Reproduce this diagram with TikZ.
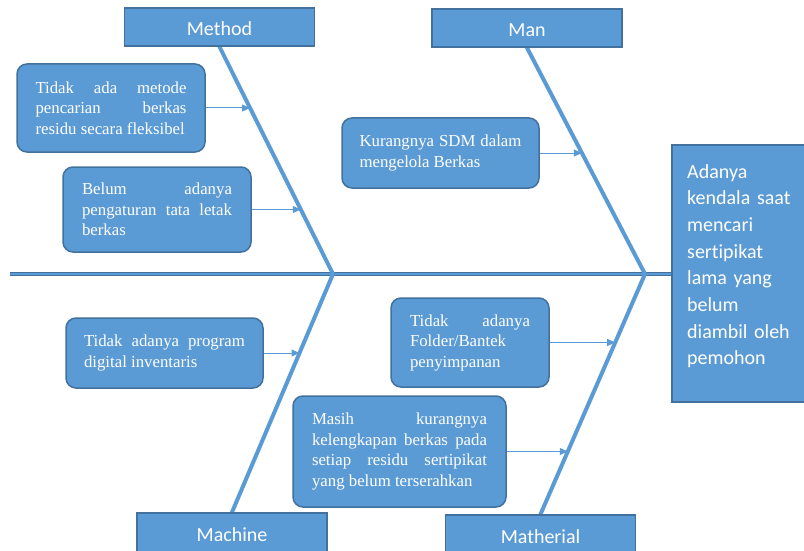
\documentclass[tikz,border=0pt]{standalone}
\usepackage{fontspec}
\setmainfont{Liberation Serif}
\newfontfamily\calibri[Ligatures=NoCommon]{Carlito}
\usetikzlibrary{arrows.meta,intersections,backgrounds}
\hyphenpenalty=10000
\definecolor{boxblue}{HTML}{5B9BD5}
\definecolor{edgeblue}{HTML}{41719C}
\tikzset{
  cat/.style={draw=edgeblue,line width=1.5pt,fill=boxblue,text=white,inner sep=0,
    minimum width=190,minimum height=38,font=\calibri\fontsize{20}{24}\selectfont},
  cause/.style={draw=edgeblue,line width=1.5pt,fill=boxblue,text=white,rounded corners=10,
    align=justify,font=\fontsize{16.8}{20.5}\selectfont},
  bone/.style={boxblue,line width=4pt,line cap=round,line join=round},
  link/.style={boxblue,line width=1pt,-{Triangle[length=8pt,width=7pt]}}
}
\begin{document}
\begin{tikzpicture}[x=1pt,y=-1pt]
\useasboundingbox (0,0) rectangle (804,551);
\clip (0,0) rectangle (804,551);
\node[cat,text height=18] (method) at (219.5,27) {Method};
\node[cat,text height=18] (man) at (527,28) {Man};
\node[cat,minimum height=44] (machine) at (232,535) {Machine};
\node[cat,minimum height=44] (matherial) at (540.5,537) {Matherial};
\node[draw=edgeblue,line width=1.5pt,fill=boxblue,inner sep=0,minimum width=150,minimum height=257,anchor=north west] (effect) at (671,144) {};
\node[anchor=north west,inner sep=0,text width=112,align=left,text=white,font=\calibri\fontsize{20}{26.7}\selectfont] (effecttext) at (687,164) {Adanya\\ kendala saat\\ mencari\\ sertipikat\\ lama yang\\ belum\\ diambil oleh\\ pemohon};
\coordinate (tail) at (10,274);
\coordinate (j1) at (333,274);
\coordinate (j2) at (645,274);
\begin{scope}[on background layer]
\draw[edgeblue,line width=3.5pt] (tail) -- (tail -| effect.west);
\draw[boxblue,line width=1.2pt] (tail) -- (tail -| effect.west);
\draw[bone] (method.south) -- (j1) -- (machine.north);
\draw[bone] (man.south) -- (j2) -- (matherial.north);
\end{scope}
\path[name path=methodbone] (method.south) -- (j1);
\path[name path=machinebone] (j1) -- (machine.north);
\path[name path=manbone] (man.south) -- (j2);
\path[name path=matbone] (j2) -- (matherial.north);
\node[cause,text width=151,minimum width=188,minimum height=88] (m1) at (111,108) {Tidak ada metode\linebreak pencarian berkas\linebreak residu secara fleksibel};
\node[cause,text width=150,minimum width=188,minimum height=85] (m2) at (157,209.5) {Belum adanya\linebreak pengaturan tata letak\linebreak berkas};
\node[cause,text width=162,minimum width=197,minimum height=70] (man1) at (440.5,153) {Kurangnya SDM dalam\linebreak mengelola Berkas};
\node[cause,text width=161,minimum width=197,minimum height=70] (mc1) at (164.5,353) {Tidak adanya program\linebreak digital inventaris};
\node[cause,text width=120,minimum width=158,minimum height=89] (mt1) at (470,342.5) {Tidak adanya\linebreak Folder/Bantek\\ penyimpanan};
\node[cause,text width=175,minimum width=213,minimum height=111] (mt2) at (399.5,451.5) {Masih kurangnya\linebreak kelengkapan berkas pada\linebreak setiap residu sertipikat\linebreak yang belum terserahkan};
\foreach \c/\b in {m1/methodbone,m2/methodbone,man1/manbone,mc1/machinebone,mt1/matbone,mt2/matbone}{
  \path[name path=ray] (\c.east) -- ++(150,0);
  \draw[link,name intersections={of=ray and \b}] (\c.east) -- (intersection-1);
}
\end{tikzpicture}
\end{document}
